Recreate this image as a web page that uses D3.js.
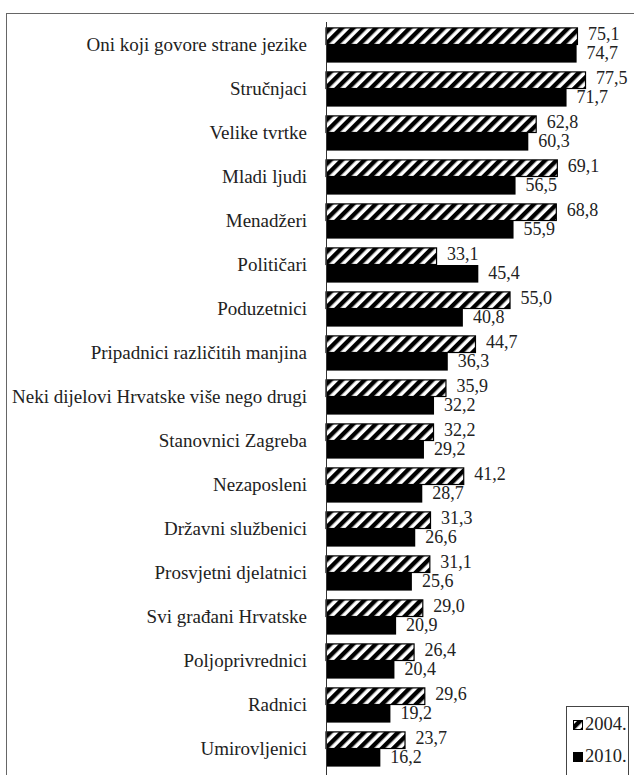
<!DOCTYPE html>
<html><head><meta charset="utf-8">
<script src="https://cdn.jsdelivr.net/npm/d3@7"></script>
<style>body{margin:0;background:#fff;} svg{display:block;}</style>
</head><body>
<script>
const categories = ["Oni koji govore strane jezike","Stručnjaci","Velike tvrtke","Mladi ljudi","Menadžeri","Političari","Poduzetnici","Pripadnici različitih manjina","Neki dijelovi Hrvatske više nego drugi","Stanovnici Zagreba","Nezaposleni","Državni službenici","Prosvjetni djelatnici","Svi građani Hrvatske","Poljoprivrednici","Radnici","Umirovljenici"];
const values2004 = [75.1,77.5,62.8,69.1,68.8,33.1,55.0,44.7,35.9,32.2,41.2,31.3,31.1,29.0,26.4,29.6,23.7];
const values2010 = [74.7,71.7,60.3,56.5,55.9,45.4,40.8,36.3,32.2,29.2,28.7,26.6,25.6,20.9,20.4,19.2,16.2];
const seriesNames = ["2004.","2010."];

const W = 634, H = 775;
const FONT = '"Liberation Serif"';
const svg = d3.select("body").append("svg").attr("width", W).attr("height", H);

const defs = svg.append("defs");
const pat = defs.append("pattern").attr("id","hatch").attr("patternUnits","userSpaceOnUse")
  .attr("width",8).attr("height",8).attr("patternTransform","rotate(45)");
pat.append("rect").attr("width",8).attr("height",8).attr("fill","#fff");
pat.append("rect").attr("x",0).attr("width",4.4).attr("height",8).attr("fill","#000");

// frame
svg.append("rect").attr("x",6.5).attr("y",13.5).attr("width",W+10).attr("height",H+10)
  .attr("fill","none").attr("stroke","#666").attr("stroke-width",1);

const x0 = 326;
const x = d3.scaleLinear().domain([0,100]).range([x0, x0 + 335.5]);
const y = d3.scaleBand().domain(categories).range([23, 23 + 44*categories.length]).paddingInner(0.2).paddingOuter(0.1);
const ySub = d3.scaleBand().domain(seriesNames).range([0, y.bandwidth()]);

const data = categories.map((c,i)=>({c, vals:[values2004[i], values2010[i]]}));

const g = svg.append("g");
const grp = g.selectAll("g.cat").data(data).join("g").attr("transform", d=>`translate(0,${y(d.c)})`);

grp.selectAll("rect").data(d=>d.vals.map((v,k)=>({v,k}))).join("rect")
  .attr("x", x(0))
  .attr("y", d=>ySub(seriesNames[d.k]) + (d.k===0?0.5:0))
  .attr("width", d=>x(d.v)-x(0) - (d.k===0?0.5:0))
  .attr("height", d=>ySub.bandwidth() - (d.k===0?1:0))
  .attr("fill", d=>d.k===0?"url(#hatch)":"#000")
  .attr("stroke", d=>d.k===0?"#000":"none")
  .attr("stroke-width",1.2);

grp.selectAll("text").data(d=>d.vals.map((v,k)=>({v,k}))).join("text")
  .attr("x", d=>x(d.v)+10)
  .attr("y", d=>ySub(seriesNames[d.k]) + ySub.bandwidth()/2 + (d.k===0?0:1.5))
  .attr("dominant-baseline","middle")
  .style("font-family",FONT).style("font-size","18px").attr("fill","#222")
  .text(d=>d3.format(".1f")(d.v).replace(".",","));

// category axis
const axis = d3.axisLeft(y).tickSize(0).tickPadding(19);
const ax = svg.append("g").attr("transform",`translate(${x0},0)`).call(axis);
ax.select(".domain").remove();
ax.selectAll("text").style("font-family",FONT).style("font-size","19px").attr("fill","#222").attr("dy","0.32em");
svg.append("line").attr("x1",x0+0.5).attr("x2",x0+0.5).attr("y1",22).attr("y2",H).attr("stroke","#333").attr("stroke-width",1);

// legend
const lg = svg.append("g");
lg.append("rect").attr("x",566.5).attr("y",706.5).attr("width",62).attr("height",70)
  .attr("fill","#fff").attr("stroke","#444").attr("stroke-width",1);
const items = lg.selectAll("g.item").data(seriesNames).join("g")
  .attr("transform",(d,i)=>`translate(573,${725 + i*32})`);
items.append("rect").attr("x",0.5).attr("y",-4.5).attr("width",9).attr("height",9)
  .attr("fill",(d,i)=>i===0?"url(#hatch)":"#000").attr("stroke","#000").attr("stroke-width",1);
items.append("text").attr("x",12).attr("y",1).attr("dominant-baseline","middle")
  .style("font-family",FONT).style("font-size","18.5px").attr("fill","#222").text(d=>d);
</script>
</body></html>
